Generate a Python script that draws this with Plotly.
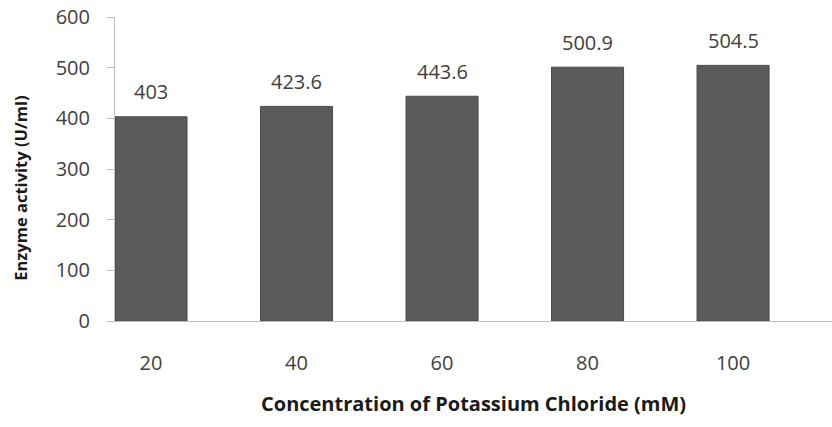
import plotly.graph_objects as go

categories = ["20", "40", "60", "80", "100"]
values = [403, 423.6, 443.6, 500.9, 504.5]
labels = ["403", "423.6", "443.6", "500.9", "504.5"]
yticks = [0, 100, 200, 300, 400, 500, 600]

xs = list(range(len(categories)))
bw = 0.495

fig = go.Figure()
fig.add_trace(go.Bar(
    x=xs, y=values, width=bw,
    marker=dict(color="#5b5b5b", line=dict(color="#4a4a4a", width=1)),
    hoverinfo="skip",
))

for x, v, t in zip(xs, values, labels):
    fig.add_annotation(x=x, y=v, text=t, showarrow=False, yshift=25,
                       font=dict(family="Open Sans", size=20, color="#404040"),
                       xref="x", yref="y")

fig.add_annotation(x=0.5, y=-0.27, xref="paper", yref="paper",
                   text="<b>Concentration of Potassium Chloride (mM)</b>",
                   showarrow=False, xanchor="center", yanchor="middle",
                   font=dict(family="Open Sans", size=20, color="#1a1a1a"))
fig.add_annotation(x=0, y=0.435, xref="paper", yref="paper",
                   text="<b>Enzyme activity (U/ml)</b>", textangle=-90,
                   showarrow=False, xanchor="center", yanchor="middle",
                   xshift=-94,
                   font=dict(family="Open Sans", size=16.5, color="#1a1a1a"))

fig.update_layout(
    width=832, height=427,
    margin=dict(l=115, r=0, t=17, b=106),
    paper_bgcolor="white", plot_bgcolor="white",
    showlegend=False,
    xaxis=dict(
        range=[-bw / 2, 4.68],
        tickmode="array", tickvals=xs, ticktext=categories,
        showline=True, linecolor="#bfbfbf", linewidth=1,
        showgrid=False, zeroline=False, ticks="",
        ticklabelstandoff=24,
        tickfont=dict(family="Open Sans", size=20, color="#404040"),
    ),
    yaxis=dict(
        range=[0, 600],
        tickmode="array", tickvals=yticks,
        showline=True, linecolor="#bfbfbf", linewidth=1,
        showgrid=False, zeroline=False,
        ticks="outside", ticklen=7, tickcolor="#bfbfbf",
        ticklabelstandoff=13,
        tickfont=dict(family="Open Sans", size=20, color="#404040"),
    ),
)

fig.write_html("out.html")
